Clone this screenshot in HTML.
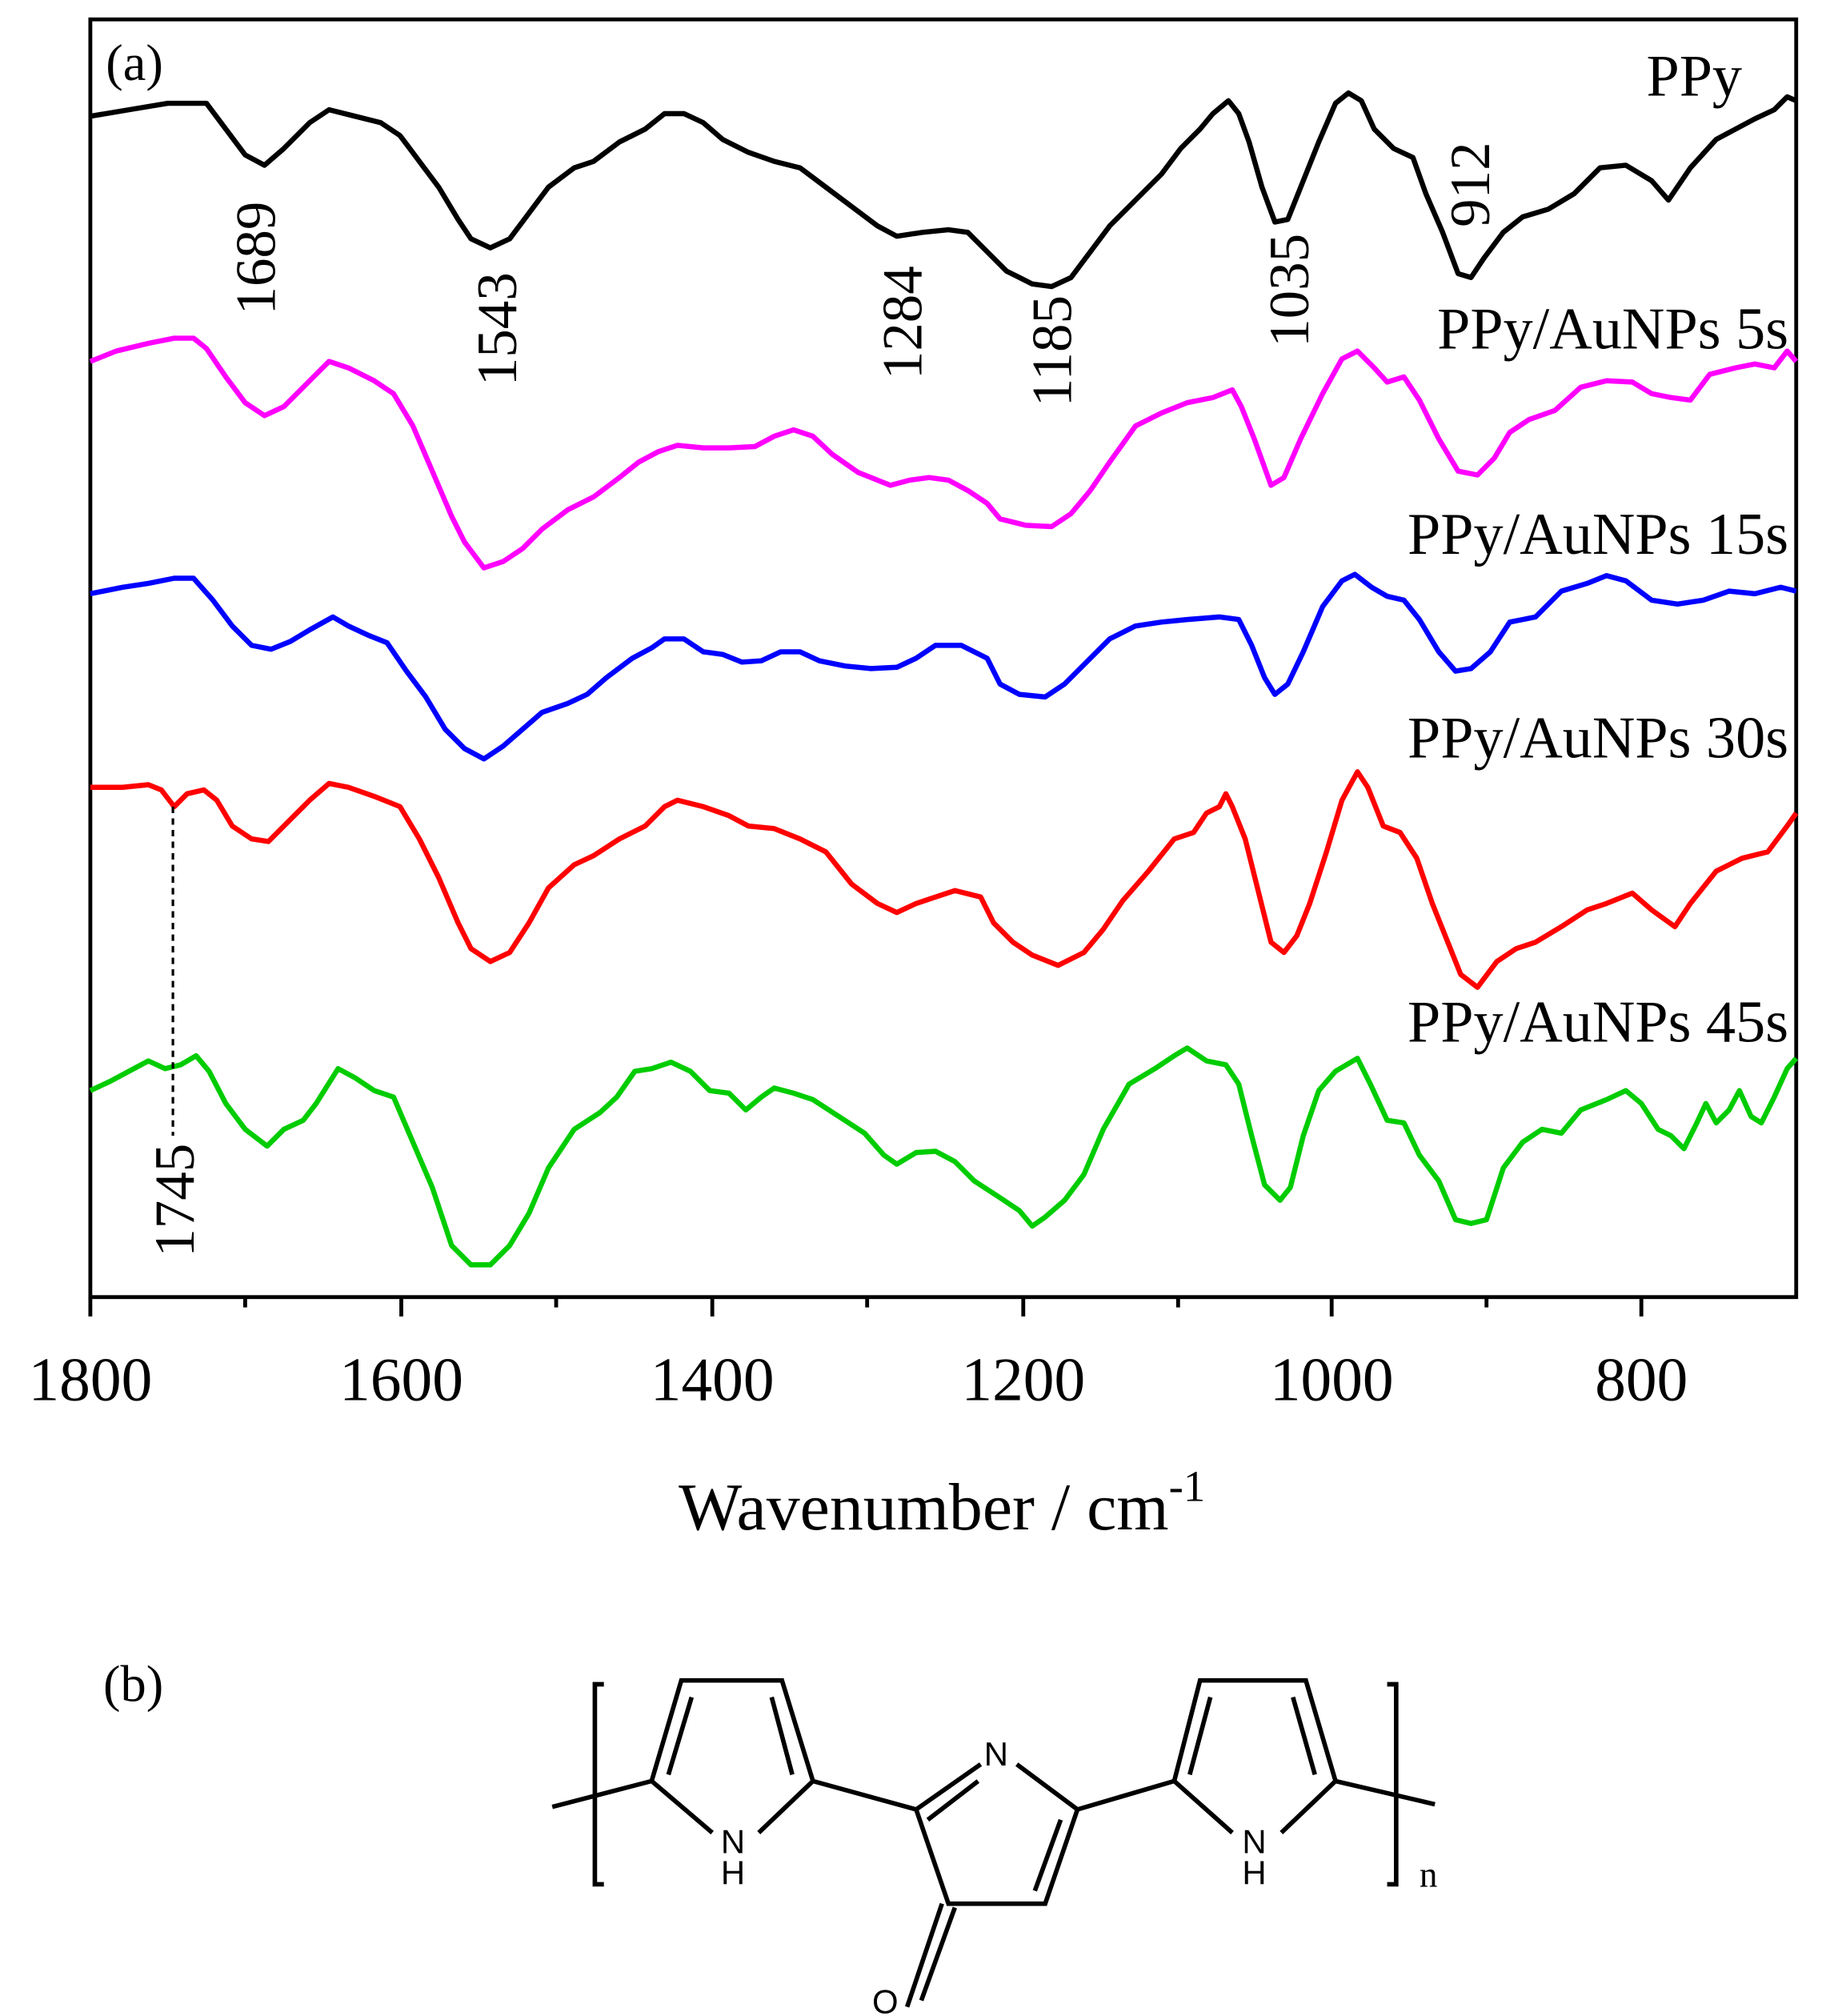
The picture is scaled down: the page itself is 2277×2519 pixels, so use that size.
<!DOCTYPE html>
<html><head><meta charset="utf-8"><style>html,body{margin:0;padding:0;background:#fff}svg{display:block}.s{font-family:"Liberation Serif",serif}.a{font-family:"Liberation Sans",sans-serif}</style></head>
<body>
<svg width="2277" height="2519" viewBox="0 0 1412 1562" xmlns="http://www.w3.org/2000/svg" class="s">
<rect width="1412" height="1562" fill="#fff"/>
<rect x="70" y="15" width="1322" height="990" fill="none" stroke="#000" stroke-width="3"/>
<g stroke="#000" stroke-width="3">
<line x1="70" y1="1005" x2="70" y2="1020"/><line x1="311" y1="1005" x2="311" y2="1020"/><line x1="552" y1="1005" x2="552" y2="1020"/><line x1="793" y1="1005" x2="793" y2="1020"/><line x1="1032" y1="1005" x2="1032" y2="1020"/><line x1="1272" y1="1005" x2="1272" y2="1020"/>
<line x1="190" y1="1005" x2="190" y2="1013"/><line x1="431" y1="1005" x2="431" y2="1013"/><line x1="672" y1="1005" x2="672" y2="1013"/><line x1="913" y1="1005" x2="913" y2="1013"/><line x1="1152" y1="1005" x2="1152" y2="1013"/>
</g>
<g font-size="48" text-anchor="middle" class="s">
<text x="70" y="1085">1800</text><text x="311" y="1085">1600</text><text x="552" y="1085">1400</text><text x="793" y="1085">1200</text><text x="1032" y="1085">1000</text><text x="1272" y="1085">800</text>
</g>
<text x="730" y="1185" font-size="52" text-anchor="middle" class="s">Wavenumber / cm<tspan font-size="34" dy="-22">-1</tspan></text>
<g fill="none" stroke-width="4" stroke-linejoin="round">
<polyline stroke="#000" points="70,90 100,85 130,80 160,80 175,100 190,120 205,128 220,115 240,95 255,85 275,90 295,95 310,105 325,125 340,145 355,170 365,185 380,192 395,185 410,165 425,145 445,130 460,125 480,110 500,100 515,88 530,88 545,95 560,108 580,118 600,125 620,130 640,145 660,160 680,175 695,183 715,180 735,178 750,180 765,195 780,210 800,220 815,222 830,215 845,195 860,175 880,155 900,135 915,115 930,100 940,88 952,78 960,88 968,110 978,145 988,172 998,170 1010,140 1022,110 1035,80 1045,72 1055,78 1065,100 1080,115 1095,122 1105,150 1118,180 1130,212 1140,215 1150,200 1165,180 1180,168 1200,162 1220,150 1240,130 1260,128 1280,140 1293,155 1310,130 1330,108 1345,100 1360,92 1375,85 1385,75 1392,78"/>
<polyline stroke="#ff00ff" points="70,280 90,272 115,266 135,262 150,262 160,270 175,292 190,312 205,322 220,315 240,295 255,280 270,285 290,295 305,305 320,330 335,365 350,400 360,420 375,440 390,435 405,425 420,410 440,395 460,385 480,370 495,358 510,350 525,345 545,347 565,347 585,346 600,338 615,333 630,338 645,352 665,366 690,376 705,372 720,370 735,372 750,380 765,390 775,402 795,407 815,408 830,398 845,380 860,358 880,330 900,320 920,312 940,308 955,302 962,315 972,340 985,376 995,370 1008,340 1025,305 1040,278 1052,272 1065,285 1075,296 1088,292 1100,310 1115,340 1130,365 1145,368 1158,355 1170,335 1185,325 1205,318 1225,300 1245,295 1265,296 1280,305 1295,308 1310,310 1325,290 1345,285 1360,282 1375,285 1385,272 1392,280"/>
<polyline stroke="#0000ff" points="70,460 95,455 115,452 135,448 150,448 165,465 180,485 195,500 210,503 225,497 240,488 258,478 270,485 285,492 300,498 315,520 330,540 345,565 360,580 375,588 390,578 405,565 420,552 440,545 455,538 470,525 490,510 505,502 515,495 530,495 545,505 560,507 575,513 590,512 605,505 620,505 635,512 655,516 675,518 695,517 710,510 725,500 745,500 765,510 775,530 790,538 810,540 825,530 845,510 860,495 880,485 900,482 920,480 945,478 960,480 970,500 980,525 988,538 998,530 1010,505 1025,470 1040,450 1050,445 1063,455 1075,462 1088,465 1100,480 1115,505 1128,520 1140,518 1155,505 1170,482 1190,478 1210,458 1230,452 1245,446 1260,450 1280,465 1300,468 1320,465 1340,458 1360,460 1380,455 1392,458"/>
<polyline stroke="#ff0000" points="70,610 95,610 115,608 125,612 135,625 145,615 158,612 168,620 180,640 195,650 208,652 220,640 240,620 255,607 270,610 290,617 310,625 325,650 340,680 355,715 365,735 380,745 395,738 410,715 425,688 445,670 460,663 480,650 500,640 515,625 525,620 545,625 565,632 580,640 600,642 620,650 640,660 660,685 680,700 695,707 710,700 725,695 740,690 760,695 770,715 785,730 800,740 820,748 840,738 855,720 870,698 890,675 910,650 925,645 935,630 945,625 950,615 955,625 965,650 975,690 985,730 995,738 1005,725 1015,700 1028,660 1040,620 1052,598 1060,610 1072,640 1085,645 1098,665 1110,700 1122,730 1132,755 1145,765 1160,745 1175,735 1190,730 1210,718 1230,705 1245,700 1265,692 1280,705 1298,718 1310,700 1330,675 1350,665 1370,660 1385,640 1392,630"/>
<polyline stroke="#00cc00" points="70,845 85,838 100,830 115,822 128,828 140,825 152,818 162,830 175,855 190,875 207,888 220,875 235,868 245,855 262,828 275,835 290,845 305,850 320,885 335,920 350,965 365,980 380,980 395,965 410,940 425,905 445,875 465,862 478,850 492,830 505,828 520,823 535,830 550,845 565,847 578,860 590,850 600,843 615,847 630,852 650,865 670,878 685,895 695,902 710,893 725,892 740,900 755,915 775,928 790,938 800,950 810,943 825,930 840,910 855,875 875,840 895,828 910,818 920,812 935,822 950,825 960,840 970,880 980,918 992,930 1000,920 1010,880 1022,845 1035,830 1052,820 1062,840 1075,868 1088,870 1100,895 1115,915 1128,945 1140,948 1152,945 1165,905 1180,885 1195,875 1210,878 1225,860 1245,852 1260,845 1272,855 1285,875 1295,880 1305,890 1315,870 1322,855 1330,870 1340,860 1348,845 1357,865 1365,870 1375,850 1385,828 1392,820"/>
</g>
<line x1="134" y1="625" x2="134" y2="880" stroke="#000" stroke-width="2" stroke-dasharray="5,4"/>
<text x="82" y="62" font-size="40" class="s">(a)</text>
<g font-size="46" text-anchor="end" class="s">
<text x="1350" y="74">PPy</text>
<text x="1386" y="270">PPy/AuNPs 5s</text>
<text x="1386" y="429">PPy/AuNPs 15s</text>
<text x="1386" y="587">PPy/AuNPs 30s</text>
<text x="1386" y="807">PPy/AuNPs 45s</text>
</g>
<g font-size="44" text-anchor="middle" class="s">
<text transform="translate(213,200) rotate(-90)">1689</text>
<text transform="translate(400,255) rotate(-90)">1543</text>
<text transform="translate(714,250) rotate(-90)">1284</text>
<text transform="translate(830,272) rotate(-90)">1185</text>
<text transform="translate(1014,225) rotate(-90)">1035</text>
<text transform="translate(1154,143) rotate(-90)">912</text>
<text transform="translate(150,930) rotate(-90)">1745</text>
</g>
<text x="80" y="1318" font-size="40" class="s">(b)</text>
<g stroke="#000" stroke-width="3.5" fill="none">
<polyline points="468,1305 461,1305 461,1460 468,1460"/>
<polyline points="1075,1305 1082,1305 1082,1460 1075,1460"/>
<line x1="428" y1="1400" x2="505" y2="1380"/>
<polyline points="552,1420 505,1380 528,1302 606,1302 630,1380 588,1420"/>
<line x1="536" y1="1315" x2="518" y2="1375"/><line x1="598" y1="1315" x2="614" y2="1375"/>
<line x1="630" y1="1380" x2="710" y2="1402"/>
<polyline points="760,1367 710,1402 735,1475 810,1475 835,1402 788,1367"/>
<line x1="758" y1="1380" x2="719" y2="1410"/><line x1="822" y1="1410" x2="802" y2="1465"/>
<line x1="730" y1="1475" x2="703" y2="1555"/><line x1="740" y1="1478" x2="714" y2="1550"/>
<line x1="835" y1="1402" x2="910" y2="1380"/>
<polyline points="955,1420 910,1380 930,1302 1012,1302 1035,1380 993,1420"/>
<line x1="938" y1="1315" x2="922" y2="1375"/><line x1="1002" y1="1315" x2="1019" y2="1375"/>
<line x1="1035" y1="1380" x2="1112" y2="1398"/>
</g>
<g font-size="26" text-anchor="middle" class="a">
<text x="568" y="1436">N</text><text x="568" y="1460">H</text>
<text x="972" y="1436">N</text><text x="972" y="1460">H</text>
<text x="772" y="1368">N</text>
<text x="686" y="1560">O</text>
</g>
<text x="1100" y="1462" font-size="28" class="s">n</text>
</svg>
</body></html>
